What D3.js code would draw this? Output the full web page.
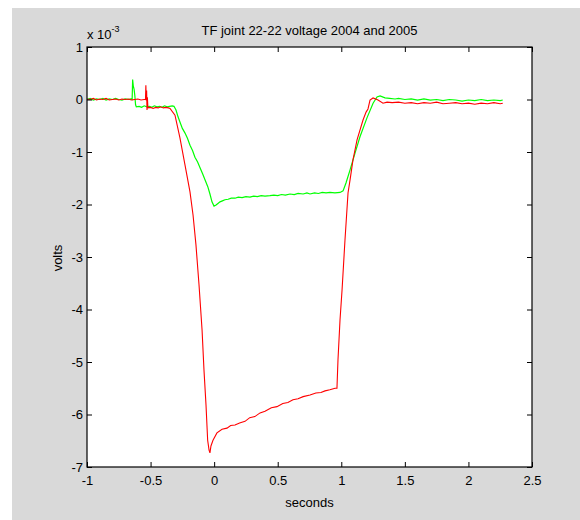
<!DOCTYPE html>
<html>
<head>
<meta charset="utf-8">
<script src="https://cdn.jsdelivr.net/npm/d3@7"></script>
<style>
  html, body { margin: 0; padding: 0; background: #ffffff; }
  svg { display: block; }
  text { font-family: "Liberation Sans", Arial, Helvetica, sans-serif; fill: #000; }
</style>
</head>
<body>
<svg id="chart" width="580" height="520"></svg>
<script>
// Joint voltage traces, time in seconds, voltage in units of 1e-3 V
const traceRed = [
  [-1.000,0.01],[-0.975,0.00],[-0.950,0.02],[-0.925,-0.01],[-0.900,0.01],[-0.875,0.00],
  [-0.850,0.02],[-0.825,-0.01],[-0.800,0.00],[-0.775,0.01],[-0.750,-0.01],[-0.725,0.01],
  [-0.700,0.00],[-0.675,0.01],[-0.650,-0.01],[-0.625,0.00],[-0.600,0.01],[-0.575,-0.01],
  [-0.550,0.00],[-0.540,0.00],[-0.537,0.27],[-0.534,-0.02],[-0.531,0.17],[-0.528,-0.20],
  [-0.525,0.04],[-0.521,-0.16],[-0.50,-0.15],[-0.48,-0.17],[-0.46,-0.15],[-0.44,-0.16],
  [-0.42,-0.14],[-0.40,-0.16],[-0.38,-0.15],[-0.36,-0.16],[-0.347,-0.17],
  [-0.308,-0.30],[-0.269,-0.73],[-0.229,-1.25],[-0.190,-1.76],[-0.166,-2.20],[-0.143,-2.77],
  [-0.119,-3.53],[-0.095,-4.39],[-0.080,-5.15],[-0.064,-5.82],[-0.051,-6.49],[-0.040,-6.68],
  [-0.033,-6.73],[-0.025,-6.60],[-0.009,-6.49],[0.022,-6.35],[0.062,-6.28],[0.101,-6.26],
  [0.13,-6.21],[0.164,-6.20],[0.20,-6.16],[0.243,-6.13],[0.28,-6.06],[0.32,-6.04],
  [0.361,-5.97],[0.40,-5.94],[0.45,-5.87],[0.494,-5.85],[0.54,-5.79],[0.58,-5.77],
  [0.620,-5.72],[0.66,-5.70],[0.70,-5.66],[0.754,-5.63],[0.80,-5.59],[0.84,-5.58],
  [0.872,-5.55],[0.91,-5.53],[0.951,-5.50],[0.966,-5.50],
  [0.974,-4.96],[0.990,-4.20],[1.006,-3.63],[1.029,-2.68],[1.053,-1.78],[1.069,-1.53],
  [1.092,-1.15],[1.124,-0.77],[1.171,-0.39],[1.195,-0.24],[1.210,-0.18],[1.226,-0.01],
  [1.250,0.03],[1.289,-0.01],[1.328,-0.07],
  [1.36,-0.05],[1.40,-0.06],[1.45,-0.05],[1.50,-0.07],[1.55,-0.06],[1.60,-0.08],
  [1.65,-0.06],[1.70,-0.07],[1.75,-0.05],[1.80,-0.08],[1.85,-0.07],[1.90,-0.06],
  [1.95,-0.08],[2.00,-0.07],[2.05,-0.09],[2.10,-0.07],[2.15,-0.08],[2.20,-0.06],
  [2.25,-0.08],[2.27,-0.07]
];

const traceGreen = [
  [-1.000,0.00],[-0.975,0.02],[-0.950,-0.01],[-0.925,0.01],[-0.900,0.00],[-0.875,0.02],
  [-0.850,-0.01],[-0.825,0.01],[-0.800,0.00],[-0.775,0.02],[-0.750,0.00],[-0.725,-0.01],
  [-0.700,0.01],[-0.675,0.00],[-0.655,0.01],[-0.645,0.00],
  [-0.641,0.38],[-0.636,0.26],[-0.630,0.20],[-0.624,0.08],[-0.618,-0.10],[-0.612,-0.14],
  [-0.59,-0.13],[-0.57,-0.15],[-0.55,-0.12],[-0.53,-0.14],[-0.51,-0.13],[-0.49,-0.15],
  [-0.47,-0.12],[-0.45,-0.14],[-0.43,-0.13],[-0.41,-0.15],[-0.39,-0.12],[-0.37,-0.14],
  [-0.35,-0.13],[-0.33,-0.12],[-0.316,-0.13],
  [-0.300,-0.20],[-0.284,-0.33],[-0.269,-0.43],[-0.25,-0.55],[-0.229,-0.64],[-0.21,-0.74],
  [-0.190,-0.87],[-0.17,-0.97],[-0.151,-1.10],[-0.13,-1.19],[-0.111,-1.30],[-0.09,-1.42],
  [-0.072,-1.53],[-0.05,-1.66],[-0.033,-1.80],[-0.017,-1.95],[-0.001,-2.03],[0.015,-2.01],
  [0.030,-1.98],[0.046,-1.95],[0.065,-1.93],[0.085,-1.91],
  [0.11,-1.90],[0.135,-1.88],[0.164,-1.88],[0.19,-1.86],[0.22,-1.87],[0.25,-1.85],
  [0.282,-1.86],[0.31,-1.84],[0.34,-1.85],[0.37,-1.83],[0.40,-1.84],[0.439,-1.83],
  [0.47,-1.82],[0.50,-1.83],[0.53,-1.81],[0.56,-1.82],[0.597,-1.80],[0.63,-1.81],
  [0.66,-1.79],[0.70,-1.80],[0.73,-1.78],[0.754,-1.80],[0.79,-1.78],[0.82,-1.79],
  [0.85,-1.77],[0.88,-1.78],[0.911,-1.77],[0.95,-1.78],[0.990,-1.77],
  [1.014,-1.74],[1.037,-1.59],[1.069,-1.34],[1.108,-1.02],[1.147,-0.71],[1.202,-0.35],
  [1.250,-0.07],[1.281,0.05],[1.305,0.07],[1.344,0.03],[1.38,0.02],[1.423,0.01],
  [1.45,0.02],[1.50,0.00],[1.55,0.01],[1.60,-0.01],[1.65,0.01],[1.70,-0.01],
  [1.75,0.00],[1.80,-0.02],[1.85,0.00],[1.90,-0.01],[1.95,-0.03],[2.00,-0.01],
  [2.05,-0.02],[2.10,0.00],[2.15,-0.02],[2.20,-0.01],[2.25,-0.02],[2.27,-0.01]
];

const xTicks = [-1, -0.5, 0, 0.5, 1, 1.5, 2, 2.5];
const yTicks = [1, 0, -1, -2, -3, -4, -5, -6, -7];

const titleText = "TF joint 22-22 voltage 2004 and 2005";
const xLabel = "seconds";
const yLabel = "volts";

const svg = d3.select("#chart");

// Figure background
svg.append("rect").attr("x", 12).attr("y", 8).attr("width", 568).attr("height", 512)
  .attr("fill", "#d9d9d9");

const plotL = 87, plotR = 532, plotT = 47, plotB = 467;
const x = d3.scaleLinear().domain([-1, 2.5]).range([plotL, plotR]);
const y = d3.scaleLinear().domain([-7, 1]).range([plotB, plotT]);

// Plot area
svg.append("rect").attr("x", plotL).attr("y", plotT)
  .attr("width", plotR - plotL).attr("height", plotB - plotT).attr("fill", "#fff");

const fmt = v => String(v);
const fs = 13;

// Traces
const line = d3.line().x(d => x(d[0])).y(d => y(d[1]));
svg.append("path").datum(traceGreen).attr("d", line)
  .attr("fill", "none").attr("stroke", "#00ff00").attr("stroke-width", 1.2);
svg.append("path").datum(traceRed).attr("d", line)
  .attr("fill", "none").attr("stroke", "#ff0000").attr("stroke-width", 1.1);

// Axes with inward ticks on all four sides
const gB = svg.append("g").attr("transform", `translate(0,${plotB})`)
  .call(d3.axisBottom(x).tickValues(xTicks).tickFormat(fmt).tickSize(-5).tickPadding(9));
const gT = svg.append("g").attr("transform", `translate(0,${plotT})`)
  .call(d3.axisTop(x).tickValues(xTicks).tickFormat("").tickSize(-5));
const gL = svg.append("g").attr("transform", `translate(${plotL},0)`)
  .call(d3.axisLeft(y).tickValues(yTicks).tickFormat(fmt).tickSize(-5).tickPadding(4));
const gR = svg.append("g").attr("transform", `translate(${plotR},0)`)
  .call(d3.axisRight(y).tickValues(yTicks).tickFormat("").tickSize(-5));

[gB, gT, gL, gR].forEach(g => {
  g.select(".domain").remove();
  g.selectAll(".tick line").attr("stroke", "#000").attr("stroke-width", 1);
  g.selectAll(".tick text").attr("font-size", fs)
    .attr("font-family", "'Liberation Sans', Arial, sans-serif").attr("fill", "#000");
});

// Frame
svg.append("rect").attr("x", plotL).attr("y", plotT)
  .attr("width", plotR - plotL).attr("height", plotB - plotT)
  .attr("fill", "none").attr("stroke", "#000").attr("stroke-width", 1.2);

// Title
svg.append("text").attr("x", (plotL + plotR) / 2).attr("y", 35)
  .attr("text-anchor", "middle").attr("font-size", fs).text(titleText);

// Exponent label
const expo = svg.append("text").attr("x", plotL).attr("y", 39).attr("font-size", fs);
expo.append("tspan").text("x 10");
expo.append("tspan").attr("font-size", 9).attr("dy", -7).text("-3");

// Axis labels
svg.append("text").attr("x", (plotL + plotR) / 2).attr("y", 507)
  .attr("text-anchor", "middle").attr("font-size", fs).text(xLabel);
svg.append("text").attr("transform", "translate(62,258) rotate(-90)")
  .attr("text-anchor", "middle").attr("font-size", fs).text(yLabel);
</script>
</body>
</html>
